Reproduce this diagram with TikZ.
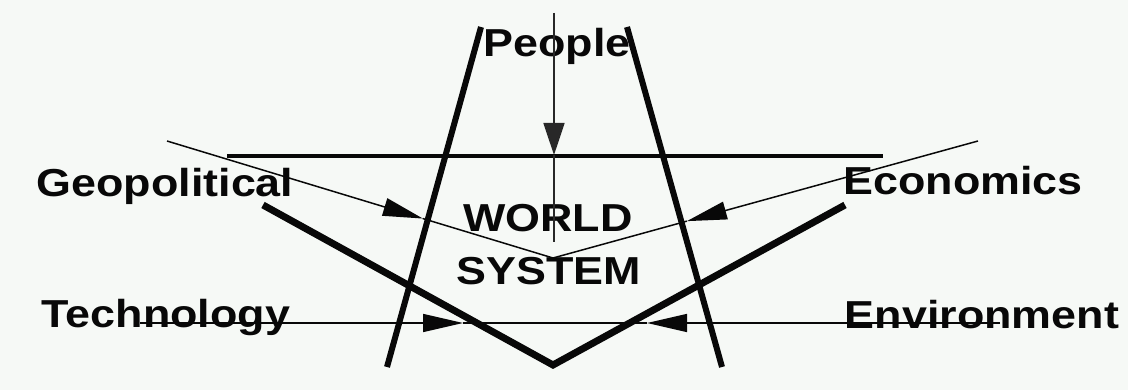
\documentclass[tikz,border=0pt]{standalone}
\usepackage{fontspec}
\setmainfont{Liberation Sans}
\usepackage{graphicx}
\usetikzlibrary{arrows.meta,calc}
\definecolor{bg}{RGB}{246,249,246}
\definecolor{ink}{RGB}{8,8,8}
\definecolor{greyink}{RGB}{40,40,40}
\newcommand\stretchtext[1]{\scalebox{1.15}[1]{#1}}
\tikzset{
  lbl/.style={anchor=base, inner sep=0pt, text=ink, font=\fontsize{39}{46}\selectfont\bfseries},
  heavyline/.style={draw=ink, line width=6pt},
  vline/.style={draw=ink, line width=7pt},
  barline/.style={draw=ink, line width=4.5pt},
  thinline/.style={draw=ink, line width=1.5pt},
  bigtip/.style={-{Triangle[length=40pt,width=18pt]}},
  downtip/.style={-{Triangle[length=32pt,width=21pt]}}
}
\begin{document}
\begin{tikzpicture}[x=1pt,y=-1pt]
\fill[bg] (0,0) rectangle (1128,390);
\useasboundingbox (0,0) rectangle (1128,390);

% labels
\node[lbl] (people) at (557,57) {\stretchtext{People}};
\node[lbl] (geo) at (165,197) {\stretchtext{Geopolitical}};
\node[lbl] (eco) at (963,195) {\stretchtext{Economics}};
\node[lbl] (tech) at (166,327) {\stretchtext{Technology}};
\node[lbl] (env) at (982,328) {\stretchtext{Environment}};
\node[lbl] (world) at (548,232) {\stretchtext{WORLD}};
\node[lbl] (system) at (549,285) {\stretchtext{SYSTEM}};

% coordinates
\coordinate (lt) at (481,27);
\coordinate (lb) at (387,367);
\coordinate (rt) at (627,27);
\coordinate (rb) at (722,367);
\coordinate (hl) at (227,156);
\coordinate (hr) at (883,156);
\coordinate (pt) at (554,13);
\coordinate (pa) at (554,155);
\coordinate (pb) at (554,242);
\coordinate (gs) at (167,141);
\coordinate (es) at (978,141);
\coordinate (vt) at (553,258);
\coordinate (ga) at ($(gs)!0.663!(vt)$);
\coordinate (ea) at ($(es)!0.685!(vt)$);
\coordinate (vl) at (263,205);
\coordinate (vb) at (553,365);
\coordinate (vr) at (845,205);
\coordinate (ts) at (140,323);
\coordinate (ta) at (463,323);
\coordinate (te) at (1000,323);
\coordinate (tb) at (647,323);

% trapezoid sides
\draw[heavyline] (lt) -- (lb);
\draw[heavyline] (rt) -- (rb);
% top bar
\draw[barline] (hl) -- (hr);
% people arrow
\draw[thinline, draw=greyink, downtip] (pt) -- (pa);
\draw[thinline, draw=greyink] (pa) -- (pb);
% geopolitical / economics arrows
\draw[thinline, bigtip] (gs) -- (ga);
\draw[thinline] (ga) -- (vt);
\draw[thinline, bigtip] (es) -- (ea);
\draw[thinline] (ea) -- (vt);
% thick V
\draw[vline] (vl) -- (vb) -- (vr);
% technology / environment arrows
\draw[thinline, bigtip] (ts) -- (ta);
\draw[thinline] (ta) -- (tb);
\draw[thinline, bigtip] (te) -- (tb);
\end{tikzpicture}
\end{document}
